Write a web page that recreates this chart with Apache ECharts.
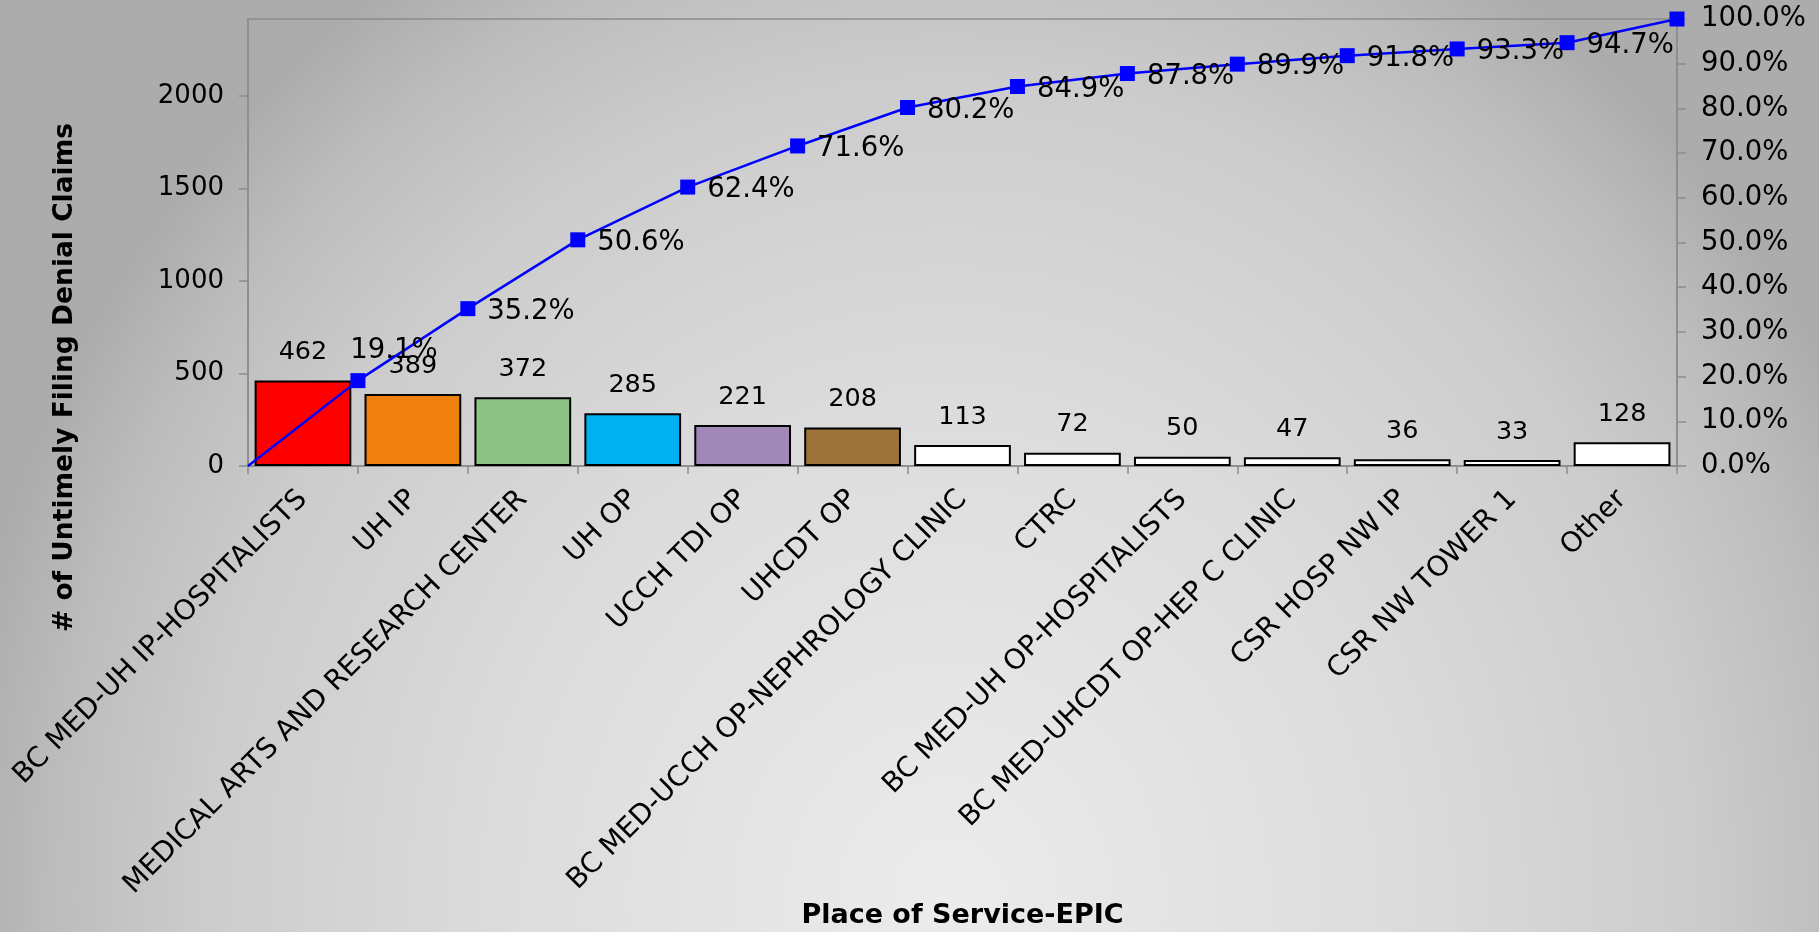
<!DOCTYPE html>
<html><head><meta charset="utf-8">
<script src="https://cdn.jsdelivr.net/npm/echarts@6/dist/echarts.min.js"></script>
<style>html,body{margin:0;padding:0;overflow:hidden;}#c{width:1819px;height:932px;}</style>
</head><body><div id="c"></div>
<script>
const categories = ['BC MED-UH IP-HOSPITALISTS','UH IP','MEDICAL ARTS AND RESEARCH CENTER','UH OP','UCCH TDI OP','UHCDT OP','BC MED-UCCH OP-NEPHROLOGY CLINIC','CTRC','BC MED-UH OP-HOSPITALISTS','BC MED-UHCDT OP-HEP C CLINIC','CSR HOSP NW IP','CSR NW TOWER 1','Other'];
const claims = [462,389,372,285,221,208,113,72,50,47,36,33,128];
const cumulativePct = [0,19.1,35.2,50.6,62.4,71.6,80.2,84.9,87.8,89.9,91.8,93.3,94.7,100.0];
const leftTicks = [0,500,1000,1500,2000];
const leftMax = 2416;
const rightTicks = [0,10,20,30,40,50,60,70,80,90,100];
const barColors = ['#FF0000','#EF800E','#8FC386','#00B0F0','#A089B8','#9C743A','#FFFFFF','#FFFFFF','#FFFFFF','#FFFFFF','#FFFFFF','#FFFFFF','#FFFFFF'];

const FONT = 'DejaVu Sans';
const W = 1819, H = 932;
const chart = echarts.init(document.getElementById('c'), null, {renderer:'canvas'});
const lineData = cumulativePct.map((v,i)=>{
  if (i===0) return {value:v, symbol:'none', label:{show:false}};
  if (i===cumulativePct.length-1) return {value:v, label:{show:false}};
  if (i===1) return {value:v, label:{position:'top', distance:4, offset:[36,-4]}};
  return v;
});
const bgW = 2147, bgH = 1000;
chart.setOption({
  backgroundColor:'#d0d0d0',
  textStyle:{fontFamily:FONT},
  animation:false,
  graphic:[{
    type:'rect', z:-100, zlevel:0, silent:true, x:0, y:0, scaleX:W/bgW, scaleY:H/bgH,
    shape:{x:0, y:0, width:bgW, height:bgH},
    style:{fill:{type:'radial', x:0.522, y:0.965, r:1.18,
      colorStops:[{offset:0,color:'#ececec'},{offset:0.45,color:'#dcdcdc'},{offset:0.75,color:'#cccccc'},{offset:0.9,color:'#bcbcbc'},{offset:1,color:'#acacac'}]}}
  }],
  grid:{left:248, right:142, top:19, bottom:466, show:true, borderColor:'#8c8c8c', borderWidth:1.5, backgroundColor:'transparent', outerBoundsMode:'none', containLabel:false},
  xAxis:[{
    type:'category', data:categories, position:'bottom',
    axisLine:{lineStyle:{color:'#8c8c8c', width:1.5}},
    axisTick:{show:true, length:8, inside:false, alignWithLabel:false, lineStyle:{color:'#8c8c8c', width:1.5}},
    axisLabel:{rotate:45, interval:0, fontSize:28, color:'#000', margin:29, fontFamily:FONT},
    name:'Place of Service-EPIC', nameLocation:'middle', nameGap:436,
    nameTextStyle:{fontSize:27, fontWeight:'bold', color:'#000', fontFamily:FONT}
  },{
    type:'category', data:cumulativePct.map((_,i)=>String(i)), boundaryGap:false, show:false, position:'bottom'
  }],
  yAxis:[{
    type:'value', min:0, max:leftMax, position:'left',
    splitLine:{show:false},
    axisLine:{show:true, lineStyle:{color:'#8c8c8c', width:1.5}},
    axisTick:{show:true, length:9, customValues:leftTicks, lineStyle:{color:'#8c8c8c', width:1.5}},
    axisLabel:{customValues:leftTicks, fontSize:26, color:'#000', margin:24, fontFamily:FONT, formatter:v=>String(v)},
    name:'# of Untimely Filing Denial Claims', nameLocation:'middle', nameGap:169, nameRotate:90,
    nameTextStyle:{fontSize:26.5, fontWeight:'bold', color:'#000', fontFamily:FONT, padding:[0,270,0,0]}
  },{
    type:'value', min:0, max:100, interval:10, position:'right',
    splitLine:{show:false},
    axisLine:{show:true, lineStyle:{color:'#8c8c8c', width:1.5}},
    axisTick:{show:true, length:9, lineStyle:{color:'#8c8c8c', width:1.5}},
    axisLabel:{fontSize:27.5, color:'#000', margin:24, fontFamily:FONT, formatter:v=>v.toFixed(1)+'%'}
  }],
  series:[{
    type:'bar', xAxisIndex:0, yAxisIndex:0, barCategoryGap:'12%',
    data:claims.map((v,i)=>({value:v, itemStyle:{color:barColors[i]}})),
    itemStyle:{borderColor:'#000', borderWidth:2},
    label:{show:true, position:'top', distance:15, fontSize:25.5, color:'#000', fontFamily:FONT},
    z:2
  },{
    type:'line', xAxisIndex:1, yAxisIndex:1, data:lineData,
    lineStyle:{color:'#0000FF', width:2.5}, itemStyle:{color:'#0000FF'},
    symbol:'rect', symbolSize:15, showSymbol:true,
    label:{show:true, position:'right', distance:12, offset:[0,3], fontSize:27.5, color:'#000', fontFamily:FONT, formatter:p=>p.value.toFixed(1)+'%'},
    z:3
  }]
});
</script></body></html>
